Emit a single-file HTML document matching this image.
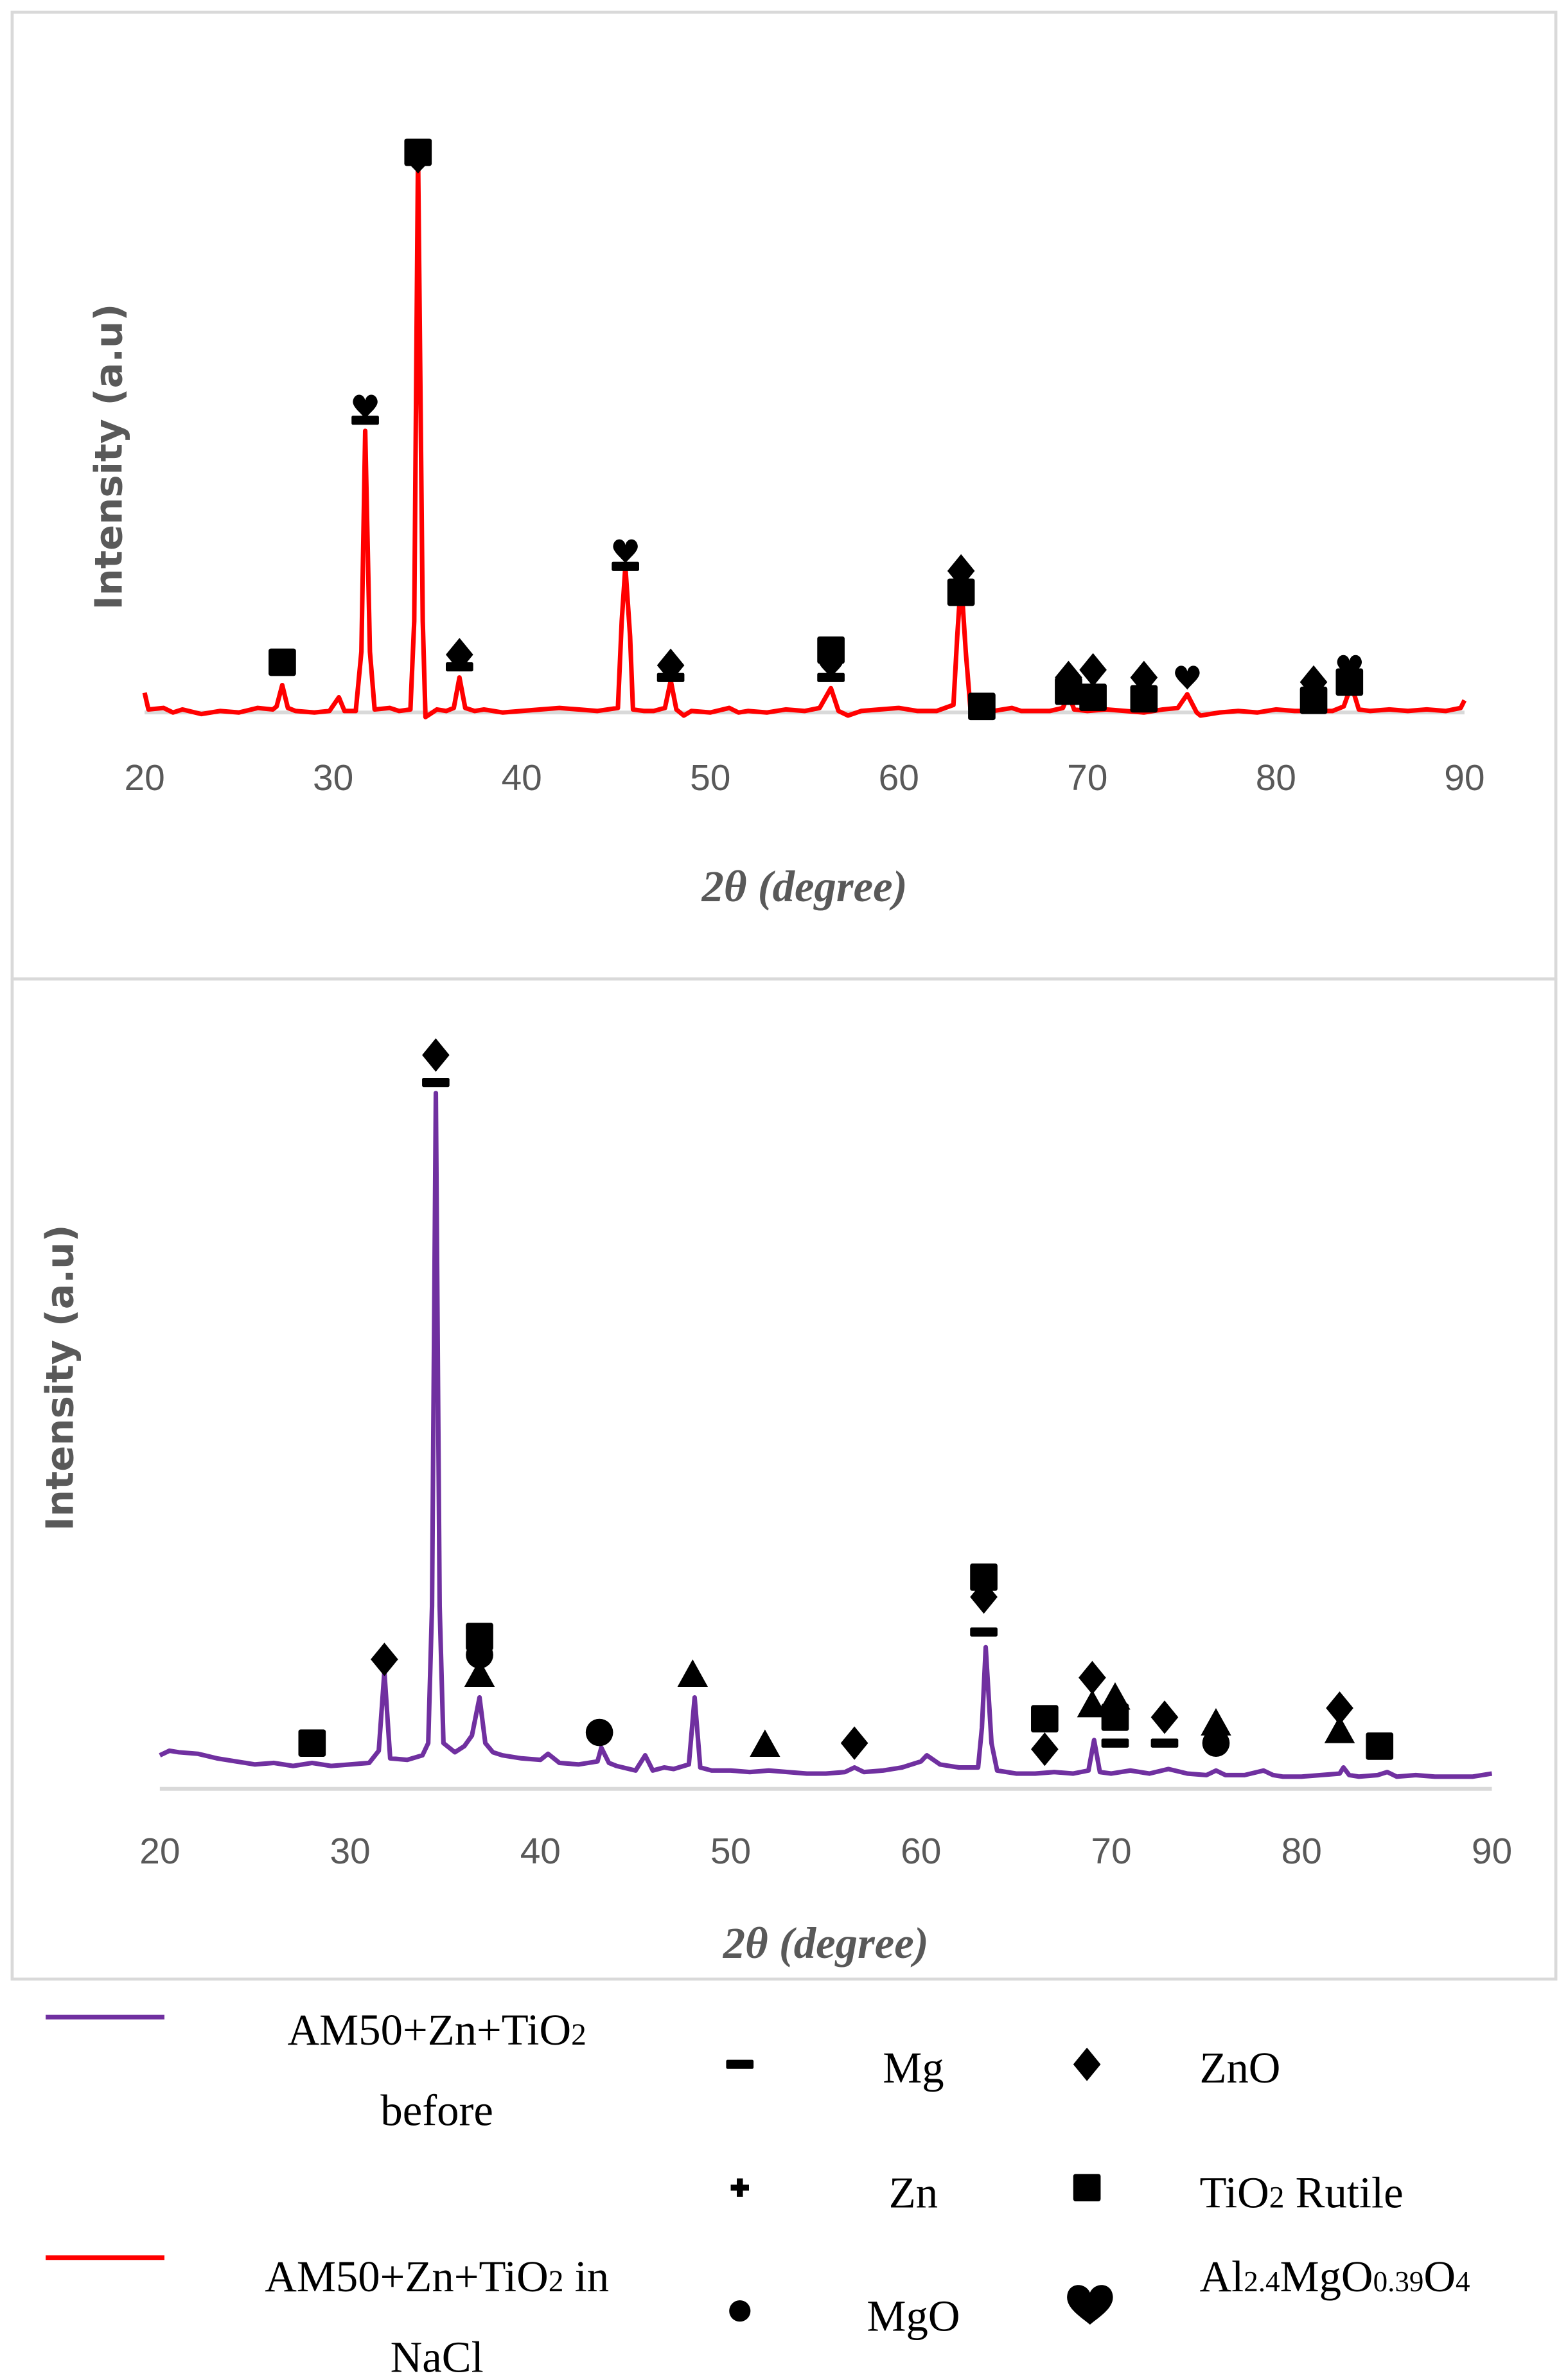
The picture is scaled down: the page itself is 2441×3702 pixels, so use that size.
<!DOCTYPE html>
<html><head><meta charset="utf-8"><style>
html,body{margin:0;padding:0;background:#fff}
svg{display:block}
.tick{font-family:"Liberation Sans",sans-serif;font-size:24px;fill:#595959}
.ttl{font-family:"Liberation Serif",serif;font-size:29px;font-weight:bold;font-style:italic;fill:#595959}
.yl{font-family:"DejaVu Sans","Liberation Sans",sans-serif;font-size:25px;font-weight:bold;fill:#595959}
.lg{font-family:"Liberation Serif",serif;font-size:29px;fill:#000}
</style></head><body>
<svg id="fig" width="2441" height="3702" viewBox="0 0 1030 1562" xmlns="http://www.w3.org/2000/svg">
<rect x="8" y="8" width="1014" height="635" fill="none" stroke="#d9d9d9" stroke-width="2"/>
<rect x="8" y="643" width="1014" height="657" fill="none" stroke="#d9d9d9" stroke-width="2"/>
<g id="top"></g>
<g id="bot"></g>
<g id="legend">
<line x1="30" y1="1325" x2="108" y2="1325" stroke="#7030a0" stroke-width="3"/>
<text class="lg" x="287" y="1343" text-anchor="middle">AM50+Zn+TiO<tspan font-size="20">2</tspan></text>
<text class="lg" x="287" y="1396" text-anchor="middle">before</text>
<line x1="30" y1="1483" x2="108" y2="1483" stroke="#ff0000" stroke-width="3"/>
<text class="lg" x="287" y="1505" text-anchor="middle">AM50+Zn+TiO<tspan font-size="20">2</tspan> in</text>
<text class="lg" x="287" y="1558" text-anchor="middle">NaCl</text>
<text class="lg" x="600" y="1368" text-anchor="middle">Mg</text>
<text class="lg" x="788" y="1368">ZnO</text>
<text class="lg" x="600" y="1450" text-anchor="middle">Zn</text>
<text class="lg" x="788" y="1450">TiO<tspan font-size="20">2</tspan> Rutile</text>
<text class="lg" x="600" y="1531" text-anchor="middle">MgO</text>
<text class="lg" x="788" y="1505">Al<tspan font-size="19">2.4</tspan>MgO<tspan font-size="19">0.39</tspan>O<tspan font-size="19">4</tspan></text>
</g>
<script>
const topX=[20,20.2,21,21.5,22,23,24,25,26,26.8,27.0,27.3,27.6,28,29,29.8,30.3,30.6,31.2,31.5,31.7,31.95,32.2,33,33.5,34.1,34.3,34.5,34.75,34.9,35.5,36,36.4,36.7,37,37.5,38,39,40,41,42,43,44,45.1,45.3,45.5,45.75,45.9,46.5,47,47.6,47.9,48.2,48.6,49,50,51,51.5,52,53,54,55,55.8,56.4,56.8,57.3,58,59,60,61,62,62.9,63.1,63.3,63.55,63.8,64.3,65,66,66.5,67,68,68.7,69,69.3,70,71,72,73,74,74.8,75.3,75.8,76,77,78,79,80,81,82,83,83.6,84,84.4,85,86,87,88,89,89.8,90];
const topY=[13,2,3,0,2,-1,1,0,3,2,4,18,3,1,0,1,10,1,1,40,185,40,2,3,1,2,60,368,60,-3,2,1,3,23,3,1,2,0,1,2,3,2,1,3,60,96,50,2,1,1,3,21,2,-2,1,0,3,0,1,0,2,1,3,16,1,-2,1,2,3,1,1,5,50,88,40,2,0,1,3,1,1,1,3,12,2,1,2,1,0,2,3,12,0,-2,0,1,0,2,1,1,1,4,18,2,1,2,1,2,1,3,8];
const botX=[20,20.5,21,22,23,24,25,26,27,28,29,30,31,31.5,31.8,32.1,33,33.8,34.1,34.3,34.5,34.7,34.9,35.5,36,36.4,36.8,37.1,37.5,38,39,40,40.4,41,42,43,43.2,43.6,44,45,45.5,45.9,46.5,47,47.8,48.1,48.4,49,50,51,52,53,54,55,56,56.5,57,58,59,60,60.3,61,62,63,63.2,63.4,63.7,64,65,66,67,68,68.8,69.1,69.4,70,71,72,73,74,75,75.5,76,77,78,78.5,79,80,81,82,82.2,82.5,83,84,84.5,85,86,87,88,89,90];
const botY=[22,25,24,23,20,18,16,17,15,17,15,16,17,25,77,20,19,22,30,120,457,120,30,24,28,35,60,30,24,22,20,19,23,17,16,18,27,17,15,12,22,12,14,13,16,60,14,12,12,11,12,11,10,10,11,14,11,12,14,18,22,16,14,14,40,93,30,12,10,10,11,10,12,32,11,10,12,10,13,10,9,12,9,9,12,9,8,8,9,10,14,9,8,9,11,8,9,8,8,8,10];
const ticks=[20,30,40,50,60,70,80,90];
const tickLabels=["20","30","40","50","60","70","80","90"];
const topMarkers=[[27.3,33,"sq"],[31.7,201,"ht"],[31.7,192,"bar"],[34.5,368,"sq"],[34.5,362,"ht"],[36.7,38,"dm"],[36.7,30,"bar"],[45.5,106,"ht"],[45.5,96,"bar"],[47.9,31,"dm"],[47.9,23,"bar"],[56.4,41,"sq"],[56.4,31,"ht"],[56.4,23,"bar"],[63.3,93,"dm"],[63.3,79,"sq"],[64.4,4,"sq"],[69,23,"dm"],[69,14,"sq"],[70.3,28,"dm"],[70.3,10,"sq"],[73,23,"dm"],[73,9,"sq"],[75.3,23,"ht"],[82,20,"dm"],[82,8,"sq"],[83.9,30,"ht"],[83.9,20,"sq"]];
const botMarkers=[[28,30,"sq"],[31.8,85,"dm"],[34.5,482,"dm"],[34.5,464,"bar"],[36.8,100,"sq"],[36.8,88,"ci"],[36.8,75,"tr"],[43.1,37,"ci"],[48,75,"tr"],[51.8,29,"tr"],[56.5,30,"dm"],[63.3,139,"sq"],[63.3,126,"dm"],[63.3,103,"bar"],[66.5,46,"sq"],[66.5,26,"dm"],[69,73,"dm"],[69,55,"tr"],[70.2,60,"tr"],[70.2,47,"sq"],[70.2,30,"bar"],[72.8,47,"dm"],[72.8,30,"bar"],[75.5,43,"tr"],[75.5,30,"ci"],[82,53,"dm"],[82,38,"tr"],[84.1,28,"sq"]];
const NS="http://www.w3.org/2000/svg";
function mk(t,a,p){const e=document.createElementNS(NS,t);for(const k in a)e.setAttribute(k,a[k]);p.appendChild(e);return e;}
function marker(g,cx,cy,t){let e;
 if(t==="sq"){e=mk("rect",{x:cx-9,y:cy-9,width:18,height:18,rx:1.5},g);}
 else if(t==="dm"){e=mk("path",{d:`M${cx} ${cy-11}L${cx+9} ${cy}L${cx} ${cy+11}L${cx-9} ${cy}Z`},g);}
 else if(t==="bar"){e=mk("rect",{x:cx-9,y:cy-3,width:18,height:6,rx:1},g);}
 else if(t==="ci"){e=mk("circle",{cx:cx,cy:cy,r:9},g);}
 else if(t==="tr"){e=mk("path",{d:`M${cx} ${cy-10}L${cx+10} ${cy+8}L${cx-10} ${cy+8}Z`},g);}
 else {e=mk("path",{d:`M${cx} ${cy+8}C${cx-3} ${cy+4} ${cx-9} ${cy} ${cx-8} ${cy-4}C${cx-7} ${cy-9} ${cx-1} ${cy-9} ${cx} ${cy-4}C${cx+1} ${cy-9} ${cx+7} ${cy-9} ${cx+8} ${cy-4}C${cx+9} ${cy} ${cx+3} ${cy+4} ${cx} ${cy+8}Z`},g);}
 
 
 e.setAttribute('fill','#000');}
function chart(id,x0,x1,base,axisY,xs,ys,color,markers,tickY,titleY,ylX,ylY){
 const g=document.getElementById(id);
 const sx=d=>x0+(d-20)*(x1-x0)/70, sy=v=>base-v;
 const ax=mk("line",{x1:x0,y1:axisY,x2:x1,y2:axisY,stroke:"#d9d9d9","stroke-width":2.5},g);
 
 
 ticks.forEach((t,i)=>{const tx=mk("text",{x:sx(t),y:tickY,"text-anchor":"middle",class:"tick"},g);tx.textContent=tickLabels[i];
  
  });
 const tt=mk("text",{x:(x0+x1)/2,y:titleY,"text-anchor":"middle",class:"ttl"},g);tt.textContent="2θ (degree)";
 
 
 const yl=mk("text",{x:ylX,y:ylY,"text-anchor":"middle",class:"yl",transform:`rotate(-90 ${ylX} ${ylY})`},g);yl.textContent="Intensity (a.u)";
 
 
 const d=xs.map((x,i)=>(i?"L":"M")+sx(x).toFixed(1)+" "+sy(ys[i]).toFixed(1)).join("");
 const p=mk("path",{d:d,fill:"none",stroke:color,"stroke-width":3,"stroke-linejoin":"round"},g);
 
 
 markers.forEach(m=>marker(g,sx(m[0]),sy(m[1]),m[2]));
}
chart("top",95,962,468,468,topX,topY,"#ff0000",topMarkers,519,592,80,300);
chart("bot",105,980,1175,1175,botX,botY,"#7030a0",botMarkers,1224,1286,48,905);
const lg=document.getElementById("legend");
marker(lg,486,1356,"bar");marker(lg,714,1356,"dm");
const p1=mk("path",{d:"M480 1437h12M486 1431v12",stroke:"#000","stroke-width":4},lg);


marker(lg,714,1437,"sq");
const c1=mk("circle",{cx:486,cy:1518,r:7},lg);


const h=mk("path",{d:"M716 1527C710 1522 700 1516 701 1508C702 1499 713 1499 716 1506C719 1499 730 1499 731 1508C732 1516 722 1522 716 1527Z"},lg);


</script>
</svg>
</body></html>
